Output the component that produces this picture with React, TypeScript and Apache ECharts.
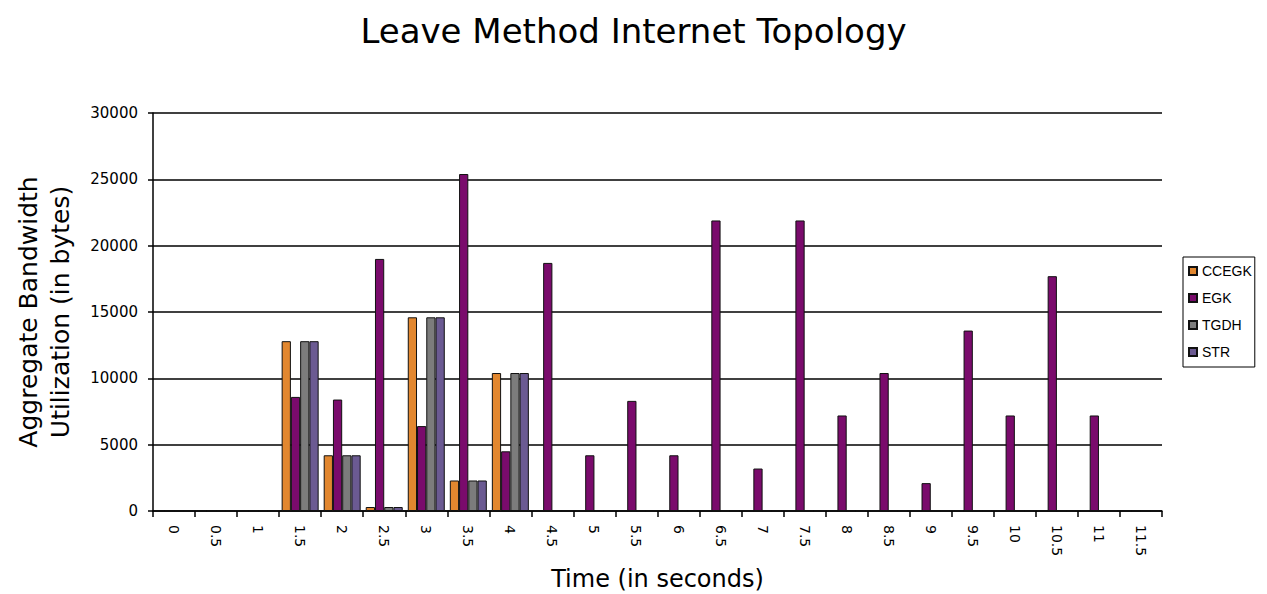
import React, { useEffect, useRef } from "react";
import * as echarts from "echarts";

// Time steps (seconds) along the x axis
const timeLabels = [
  "0", "0.5", "1", "1.5", "2", "2.5", "3", "3.5", "4", "4.5", "5", "5.5",
  "6", "6.5", "7", "7.5", "8", "8.5", "9", "9.5", "10", "10.5", "11", "11.5",
];

// Aggregate bandwidth per protocol (bytes); 0 where nothing was sent
const ccegk = [0, 0, 0, 12800, 4200, 300, 14600, 2300, 10400, 0, 0, 0, 0, 0, 0, 0, 0, 0, 0, 0, 0, 0, 0, 0];
const egk = [0, 0, 0, 8600, 8400, 19000, 6400, 25400, 4500, 18700, 4200, 8300, 4200, 21900, 3200, 21900, 7200, 10400, 2100, 13600, 7200, 17700, 7200, 0];
const tgdh = [0, 0, 0, 12800, 4200, 300, 14600, 2300, 10400, 0, 0, 0, 0, 0, 0, 0, 0, 0, 0, 0, 0, 0, 0, 0];
const str = [0, 0, 0, 12800, 4200, 300, 14600, 2300, 10400, 0, 0, 0, 0, 0, 0, 0, 0, 0, 0, 0, 0, 0, 0, 0];

const seriesNames = ["CCEGK", "EGK", "TGDH", "STR"];
const seriesColors = ["#e2872f", "#7a0b6c", "#7c7c7c", "#6b5a92"];

export default function App() {
  const ref = useRef<HTMLDivElement>(null);

  useEffect(() => {
    if (!ref.current) return;
    const chart = echarts.init(ref.current, null, { renderer: "svg" });
    const values = [ccegk, egk, tgdh, str];
    chart.setOption({
      animation: false,
      backgroundColor: "#ffffff",
      title: {
        text: "Leave Method Internet Topology",
        left: "center",
        top: 9,
        textStyle: {
          fontFamily: "DejaVu Sans",
          fontSize: 34,
          fontWeight: "normal",
          color: "#000",
        },
      },
      legend: {
        orient: "vertical",
        left: 1183,
        top: 257,
        padding: [7, 3, 8, 5],
        borderColor: "#000",
        borderWidth: 1,
        itemWidth: 8,
        itemHeight: 8,
        itemGap: 13,
        icon: "rect",
        textStyle: {
          fontFamily: "Liberation Sans",
          fontSize: 14,
          color: "#000",
        },
        data: seriesNames,
      },
      grid: {
        left: 153,
        right: 105,
        top: 113,
        bottom: 83,
        containLabel: false,
        outerBoundsMode: "none",
      },
      xAxis: {
        type: "category",
        data: timeLabels,
        name: "Time (in seconds)",
        nameLocation: "middle",
        nameGap: 56,
        nameTextStyle: {
          fontFamily: "DejaVu Sans",
          fontSize: 24,
          color: "#000",
        },
        axisLine: { lineStyle: { color: "#000", width: 1.5 } },
        axisTick: { show: true, length: 6, lineStyle: { color: "#000", width: 1.5 } },
        axisLabel: {
          rotate: -90,
          interval: 0,
          margin: 14,
          fontFamily: "DejaVu Sans",
          fontSize: 14,
          color: "#000",
        },
      },
      yAxis: {
        type: "value",
        min: 0,
        max: 30000,
        interval: 5000,
        name: "Aggregate Bandwidth\nUtilization (in bytes)",
        nameLocation: "middle",
        nameGap: 77,
        nameTextStyle: {
          fontFamily: "DejaVu Sans",
          fontSize: 25,
          color: "#000",
          lineHeight: 32,
        },
        axisLine: { show: true, lineStyle: { color: "#000", width: 1.5 } },
        axisTick: { show: true, length: 5, lineStyle: { color: "#000", width: 1.5 } },
        axisLabel: {
          margin: 15,
          fontFamily: "DejaVu Sans",
          fontSize: 15,
          color: "#000",
          formatter: (v: number) => String(v),
        },
        splitLine: { show: true, lineStyle: { color: "#000", width: 1.5 } },
      },
      series: seriesNames.map((name, i) => ({
        name,
        type: "bar",
        data: values[i],
        barGap: "0%",
        barCategoryGap: "12%",
        itemStyle: {
          color: seriesColors[i],
          borderColor: "#111",
          borderWidth: 1,
        },
      })),
    });
    return () => chart.dispose();
  }, []);

  return (
    <div
      ref={ref}
      style={{ position: "fixed", left: 0, top: 0, width: 1267, height: 594 }}
    />
  );
}
